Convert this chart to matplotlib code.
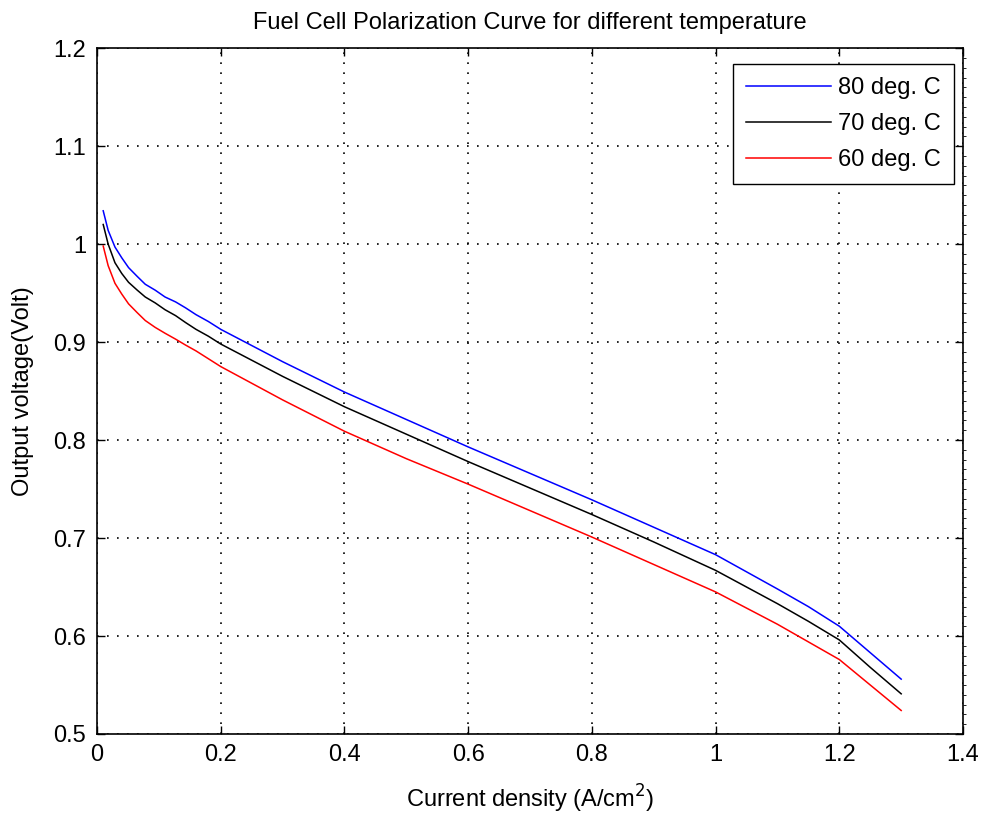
import matplotlib
matplotlib.use("Agg")
import matplotlib.pyplot as plt
from matplotlib.ticker import MultipleLocator

current = [0.01, 0.018, 0.029, 0.04, 0.051, 0.065, 0.078, 0.094, 0.11, 0.127, 0.143,
           0.16, 0.18, 0.2, 0.3, 0.4, 0.5, 0.6, 0.7, 0.8, 0.9, 1.0, 1.1, 1.15, 1.2,
           1.25, 1.3]
v80 = [1.034, 1.014, 0.997, 0.986, 0.976, 0.967, 0.959, 0.953, 0.946, 0.941, 0.935,
       0.928, 0.921, 0.913, 0.880, 0.849, 0.821, 0.793, 0.766, 0.739, 0.711, 0.683,
       0.648, 0.630, 0.610, 0.583, 0.556]
v70 = [1.020, 1.000, 0.981, 0.970, 0.961, 0.953, 0.946, 0.940, 0.933, 0.927, 0.920,
       0.913, 0.906, 0.898, 0.865, 0.834, 0.806, 0.778, 0.751, 0.724, 0.696, 0.667,
       0.633, 0.615, 0.596, 0.568, 0.541]
v60 = [0.998, 0.978, 0.960, 0.949, 0.939, 0.930, 0.922, 0.915, 0.909, 0.903, 0.897,
       0.891, 0.883, 0.875, 0.841, 0.809, 0.781, 0.755, 0.728, 0.701, 0.673, 0.645,
       0.612, 0.594, 0.576, 0.550, 0.524]
labels = ["80 deg. C", "70 deg. C", "60 deg. C"]
colors = ["#0000ff", "#000000", "#ff0000"]
xtick_vals = [0, 0.2, 0.4, 0.6, 0.8, 1.0, 1.2, 1.4]
xtick_labels = ["0", "0.2", "0.4", "0.6", "0.8", "1", "1.2", "1.4"]
ytick_vals = [0.5, 0.6, 0.7, 0.8, 0.9, 1.0, 1.1, 1.2]
ytick_labels = ["0.5", "0.6", "0.7", "0.8", "0.9", "1", "1.1", "1.2"]

plt.rcParams['font.family'] = ['Liberation Sans', 'DejaVu Sans']
FS = 17

fig = plt.figure(figsize=(9.85, 8.16), dpi=100)
ax = fig.add_axes([0.0985, 0.1005, 0.8792, 0.8405])

for v, lab, c in zip([v80, v70, v60], labels, colors):
    ax.plot(current, v, color=c, lw=1.1, label=lab)

ax.set_xlim(0, 1.4)
ax.set_ylim(0.5, 1.2)
ax.set_xticks(xtick_vals)
ax.set_xticklabels(xtick_labels)
ax.set_yticks(ytick_vals)
ax.set_yticklabels(ytick_labels)
ax.yaxis.set_minor_locator(MultipleLocator(0.01))
ax.tick_params(which='major', direction='in', top=True, right=True, length=6,
               width=1, labelsize=FS)
ax.tick_params(axis='x', which='major', pad=7)
ax.tick_params(axis='y', which='major', pad=8)
ax.tick_params(which='minor', left=False, right=True, direction='out', length=2)
ax.grid(True, which='major', color='black', linestyle=(0, (1, 5)), linewidth=1.2)
for s in ax.spines.values():
    s.set_linewidth(1.2)

ax.set_title("Fuel Cell Polarization Curve for different temperature", fontsize=FS, pad=14)
ax.set_xlabel("Current density (A/cm$^2$)", fontsize=FS, labelpad=12)
ax.set_ylabel("Output voltage(Volt)", fontsize=FS, labelpad=14)

leg = ax.legend(loc='upper right', bbox_to_anchor=(0.9896, 0.9767), borderaxespad=0,
                fancybox=False, edgecolor='black', framealpha=1,
                fontsize=FS, handlelength=3.6, borderpad=0.55, labelspacing=0.6,
                handletextpad=0.3)
leg.get_frame().set_linewidth(1.0)

fig.savefig("out.png", dpi=100)
